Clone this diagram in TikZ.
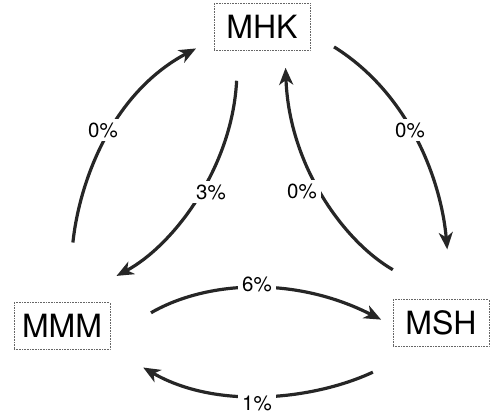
\documentclass[tikz,border=0pt]{standalone}
\usepackage{fontspec}
\setmainfont{TeX Gyre Heros}
\usetikzlibrary{arrows.meta}
\tikzset{
  box/.style={draw=black!60, densely dotted, line width=0.6pt, minimum width=96pt, minimum height=47pt, inner sep=0pt, font=\fontsize{32}{32}\selectfont},
  flow/.style={line width=3.2pt, draw=black!85, -{Stealth[length=17pt,width=14pt,inset=5pt]}},
  pct/.style={fill=white, inner sep=4pt, font=\fontsize{20.5}{20.5}\selectfont}
}
\begin{document}
\begin{tikzpicture}[x=1pt,y=1pt]
  \useasboundingbox (0,0) rectangle (493,413);
  % boxes
  \node[box] at(262,386)(mhk){MHK};
  \node[box] at(62,87)(mmm){MMM};
  \node[box] at(441,90)(msh){MSH};
  % outer arrows
  \draw[flow, shorten <=60pt, shorten >=20pt] (mmm.79) to[out=84,in=208] (mhk.194);
  \draw[flow, shorten <=28pt, shorten >=50pt] (mhk.-6) to[out=-32,in=95] (msh.66);
  % inner arrows
  \draw[flow, shorten <=30pt, shorten >=56pt] (mhk.-135) to[out=-93,in=28] (mmm.78);
  \draw[flow, shorten <=59pt, shorten >=17pt] (msh.83) to[out=150,in=-88] (mhk.-46);
  % lower arrows
  \draw[flow, shorten <=47pt, shorten >=13pt] (mmm.-12) to[out=30,in=153] (msh.-177);
  \draw[flow, shorten <=60pt, shorten >=38pt] (msh.-120) to[out=205,in=-30] (mmm.-25);
  % rates
  \node[pct] at(103,283)(rmmmhk){0\%};
  \node[pct] at(410,283)(rmhksh){0\%};
  \node[pct] at(211,221)(rmhkmm){3\%};
  \node[pct] at(302,222)(rmshhk){0\%};
  \node[pct] at(257,129)(rmmmsh){6\%};
  \node[pct] at(257,10)(rmshmm){1\%};
\end{tikzpicture}
\end{document}
